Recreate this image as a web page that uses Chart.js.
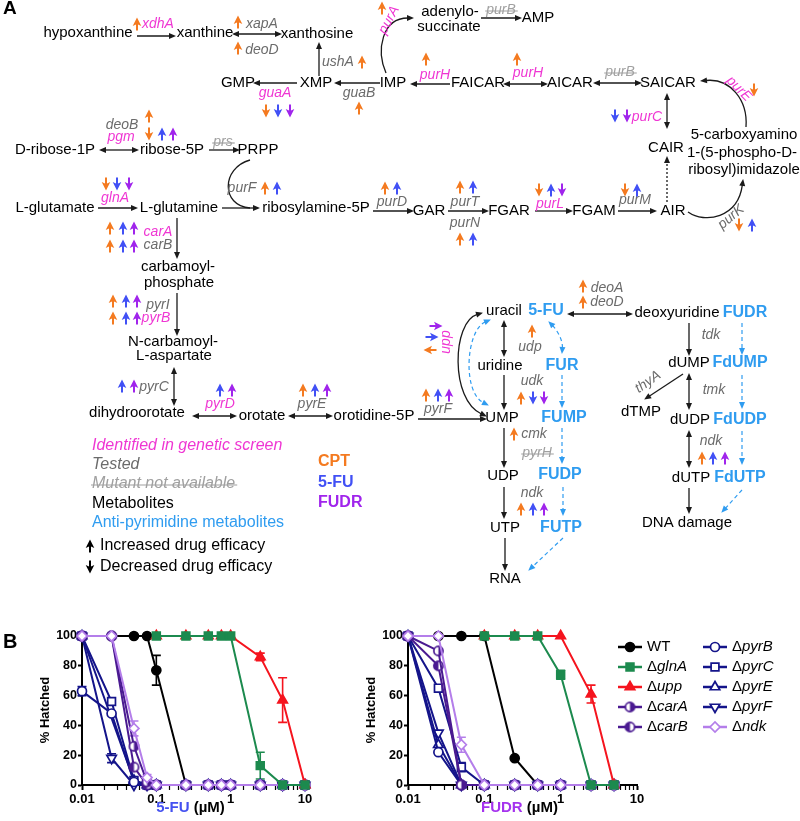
<!DOCTYPE html>
<html>
<head>
<meta charset="utf-8">
<title>Pyrimidine pathway and hatching</title>
<script src="https://cdn.jsdelivr.net/npm/chart.js@4.4.1/dist/chart.umd.min.js"></script>
<style>
  html, body { margin: 0; padding: 0; background: #fff; }
  body { width: 800px; height: 821px; position: relative; overflow: hidden; }
  canvas { position: absolute; }
</style>
</head>
<body>
<canvas id="pathway" width="800" height="595" style="left:0px;top:0px"></canvas>
<canvas id="fu" width="330" height="231" style="left:0px;top:590px"></canvas>
<canvas id="fudr" width="470" height="231" style="left:330px;top:590px"></canvas>
<script>
const FONT = '"Liberation Sans", Arial, Helvetica, sans-serif';
const ORANGE = "#f47a20", BLUE = "#4150f5", PURPLE = "#a024ec";
const MAGENTA = "#ef36d3", GREY = "#6b6b6b", LGREY = "#a0a0a0", CYAN = "#2f9cf0";

// ---------- panel A: pathway ----------
// metabolites [text, centre x, centre y]
const metabolites = [
  ["hypoxanthine", 88, 33], ["xanthine", 205, 33], ["xanthosine", 317, 34],
  ["GMP", 238, 83], ["XMP", 316, 83], ["IMP", 393, 83],
  ["adenylo-", 450, 12], ["succinate", 449, 27], ["AMP", 538, 18],
  ["FAICAR", 478, 83], ["AICAR", 570, 83], ["SAICAR", 668, 83],
  ["CAIR", 666, 148], ["5-carboxyamino", 744, 135], ["1-(5-phospho-D-", 742, 153], ["ribosyl)imidazole", 744, 170],
  ["D-ribose-1P", 55, 150], ["ribose-5P", 172, 150], ["PRPP", 258, 150],
  ["L-glutamate", 55, 208], ["L-glutamine", 179, 208], ["ribosylamine-5P", 316, 208],
  ["GAR", 429, 211], ["FGAR", 509, 211], ["FGAM", 594, 211], ["AIR", 673, 211],
  ["carbamoyl-", 178, 267], ["phosphate", 179, 283],
  ["N-carbamoyl-", 173, 342], ["L-aspartate", 174, 356],
  ["dihydroorotate", 137, 413], ["orotate", 262, 416], ["orotidine-5P", 374, 416],
  ["uracil", 504, 311], ["deoxyuridine", 677, 313], ["uridine", 500, 366],
  ["UMP", 502, 418], ["UDP", 503, 476], ["UTP", 505, 528], ["RNA", 505, 579],
  ["dUMP", 689, 363], ["dTMP", 641, 412], ["dUDP", 690, 420], ["dUTP", 691, 478], ["DNA damage", 687, 523]
];
// anti-pyrimidine metabolites [text, centre x, centre y]
const antiMetabolites = [
  ["5-FU", 546, 311], ["FUDR", 745, 313], ["FUR", 562, 366], ["FUMP", 564, 418],
  ["FUDP", 560, 475], ["FUTP", 561, 528], ["FdUMP", 740, 363], ["FdUDP", 740, 420], ["FdUTP", 740, 478]
];
// genes [text, centre x, centre y, kind, angle]
const genes = [
  ["xdhA", 158, 24, "screen"], ["xapA", 262, 24, "tested"], ["deoD", 262, 50, "tested"],
  ["ushA", 338, 62, "tested"], ["guaA", 275, 93, "screen"], ["guaB", 359, 93, "tested"],
  ["purA", 389, 20, "screen", -62], ["purB", 501, 10, "na"], ["purH", 435, 75, "screen"],
  ["purH", 528, 73, "screen"], ["purB", 620, 72, "na"], ["purE", 739, 89, "screen", 45],
  ["purC", 647, 117, "screen"], ["deoB", 122, 125, "tested"], ["pgm", 121, 137, "screen"],
  ["prs", 223, 142, "na"], ["glnA", 115, 198, "screen"], ["purF", 242, 188, "tested"],
  ["purD", 392, 202, "tested"], ["carA", 158, 232, "screen"], ["carB", 158, 245, "tested"],
  ["purT", 465, 202, "tested"], ["purN", 465, 223, "tested"], ["purL", 550, 204, "screen"],
  ["purM", 635, 200, "tested"], ["purK", 731, 217, "tested", -40],
  ["pyrI", 158, 305, "tested"], ["pyrB", 156, 318, "screen"], ["pyrC", 154, 387, "tested"],
  ["pyrD", 220, 404, "screen"], ["pyrE", 312, 404, "tested"], ["pyrF", 438, 409, "tested"],
  ["upp", 446, 342, "screen", -90], ["deoA", 607, 288, "tested"], ["deoD", 607, 302, "tested"],
  ["udp", 530, 347, "tested"], ["udk", 532, 381, "tested"], ["cmk", 534, 434, "tested"],
  ["pyrH", 537, 453, "na"], ["ndk", 532, 493, "tested"], ["tdk", 711, 335, "tested"],
  ["thyA", 648, 382, "tested", -35], ["tmk", 714, 390, "tested"], ["ndk", 711, 441, "tested"]
];
// straight reactions [x1, y1, x2, y2, heads]
const reactions = [
  [137, 36, 175, 36, 1], [233, 34, 281, 34, 2], [319, 76, 319, 43, 1], [297, 83, 254, 83, 1],
  [380, 83, 335, 83, 1], [481, 18, 521, 18, 1], [450, 84, 411, 84, 1], [504, 84, 547, 84, 2],
  [594, 83, 641, 83, 2], [667, 94, 667, 128, 2], [100, 150, 138, 150, 2], [209, 150, 239, 150, 1],
  [98, 208, 137, 208, 1], [222, 208, 259, 208, 1], [177, 218, 177, 258, 1], [177, 293, 177, 335, 1],
  [174, 368, 174, 405, 2], [193, 416, 236, 416, 2], [289, 416, 332, 416, 2], [418, 419, 486, 419, 1],
  [373, 211, 413, 211, 1], [448, 211, 488, 211, 1], [535, 211, 572, 211, 1], [618, 211, 656, 211, 1],
  [504, 321, 504, 356, 2], [504, 375, 504, 409, 1], [504, 428, 504, 467, 1], [504, 487, 504, 518, 1],
  [505, 538, 505, 570, 1], [568, 314, 632, 314, 2], [689, 323, 689, 355, 1], [683, 374, 645, 399, 1],
  [689, 374, 689, 409, 2], [689, 431, 689, 467, 2], [689, 488, 689, 513, 1]
];
// curved reactions [x1, y1, c1x, c1y, c2x, c2y, x2, y2, heads]
const curvedReactions = [
  [386, 73, 376, 50, 382, 18, 413, 18, 1],
  [746, 127, 748, 100, 730, 78, 701, 81, 1],
  [250, 160, 221, 168, 221, 206, 250, 208, 0],
  [688, 212, 705, 224, 738, 218, 743, 180, 1],
  [482, 313, 452, 322, 450, 400, 486, 416, 2]
];
const dottedReactions = [[667, 202, 667, 157, 1]];
// anti-pyrimidine conversions (dashed)
const drugReactions = [
  [549, 322, 557, 330, 563, 340, 562, 353, 2],
  [490, 320, 466, 330, 462, 392, 488, 405, 2],
  [562, 375, 562, 407, 1], [562, 428, 562, 463, 1], [563, 487, 563, 515, 1], [563, 538, 529, 570, 1],
  [742, 323, 742, 354, 1], [742, 375, 742, 408, 1], [742, 431, 742, 464, 1], [742, 490, 722, 512, 1]
];
// drug efficacy marks [x, y, up, drug, angle]  c = CPT, f = 5-FU, d = FUDR
const drugMarks = [
  [137, 24, 1, "c"], [238, 22, 1, "c"], [238, 48, 1, "c"], [362, 62, 1, "c"],
  [266, 111, 0, "c"], [278, 111, 0, "f"], [290, 111, 0, "d"], [359, 108, 1, "c"],
  [149, 116, 1, "c"], [149, 134, 0, "c"], [162, 134, 1, "f"], [173, 134, 1, "d"],
  [382, 8, 1, "c"], [426, 59, 1, "c"], [517, 59, 1, "c"], [754, 90, 0, "c"],
  [615, 116, 0, "f"], [627, 116, 0, "d"],
  [106, 184, 0, "c"], [117, 184, 0, "f"], [129, 184, 0, "d"],
  [265, 188, 1, "c"], [277, 188, 1, "f"], [385, 188, 1, "c"], [397, 188, 1, "f"],
  [110, 228, 1, "c"], [123, 228, 1, "f"], [134, 228, 1, "d"],
  [110, 246, 1, "c"], [123, 246, 1, "f"], [134, 246, 1, "d"],
  [460, 187, 1, "c"], [473, 187, 1, "f"], [460, 239, 1, "c"], [473, 239, 1, "f"],
  [539, 190, 0, "c"], [551, 190, 1, "f"], [562, 190, 0, "d"],
  [625, 190, 0, "c"], [637, 190, 1, "f"], [739, 225, 0, "c"], [752, 225, 1, "f"],
  [113, 301, 1, "c"], [126, 301, 1, "f"], [137, 301, 1, "d"],
  [113, 318, 1, "c"], [126, 318, 1, "f"], [137, 318, 1, "d"],
  [122, 386, 1, "f"], [134, 386, 1, "d"], [220, 390, 1, "f"], [232, 390, 1, "d"],
  [303, 390, 1, "c"], [315, 390, 1, "f"], [327, 390, 1, "d"],
  [426, 395, 1, "c"], [438, 395, 1, "f"], [449, 395, 1, "d"],
  [430, 350, 1, "c", -90], [432, 337, 0, "f", -90], [436, 326, 0, "d", -90],
  [583, 286, 1, "c"], [583, 302, 1, "c"], [532, 331, 1, "c"],
  [521, 398, 1, "c"], [533, 398, 0, "f"], [544, 398, 0, "d"], [514, 434, 1, "c"],
  [521, 509, 1, "c"], [533, 509, 1, "f"], [544, 509, 1, "d"],
  [702, 458, 1, "c"], [713, 458, 1, "f"], [725, 458, 1, "d"]
];
// key [text, left x, centre y, kind]
const keyItems = [
  ["Identified in genetic screen", 92, 446, "screen"], ["Tested", 92, 465, "tested"],
  ["Mutant not available", 92, 484, "na"], ["Metabolites", 92, 504, "met"],
  ["Anti-pyrimidine metabolites", 92, 523, "anti"]
];
const drugKey = [["CPT", 318, 462, "c"], ["5-FU", 318, 483, "f"], ["FUDR", 318, 503, "d"]];
const efficacyKey = [["Increased drug efficacy", 100, 546, 1], ["Decreased drug efficacy", 100, 567, 0]];

const drugColor = { c: ORANGE, f: BLUE, d: PURPLE };
const geneColor = { screen: MAGENTA, tested: GREY, na: LGREY };

function txt(ctx, s, x, y, font, color, align, ang) {
  ctx.save();
  ctx.translate(x, y);
  if (ang) ctx.rotate(ang * Math.PI / 180);
  ctx.font = font; ctx.fillStyle = color;
  ctx.textAlign = align || "center"; ctx.textBaseline = "middle";
  ctx.fillText(s, 0, 0);
  ctx.restore();
}
function strikeThrough(ctx, s, x, y, font, color, align) {
  ctx.save();
  ctx.font = font;
  const w = ctx.measureText(s).width;
  const x0 = align === "left" ? x : x - w / 2;
  ctx.strokeStyle = color; ctx.lineWidth = 1.2;
  ctx.beginPath(); ctx.moveTo(x0 - 1, y + 1); ctx.lineTo(x0 + w + 2, y + 1); ctx.stroke();
  ctx.restore();
}
function drugArrow(ctx, x, y, up, color, ang) {
  ctx.save();
  ctx.translate(x, y);
  if (ang) ctx.rotate(ang * Math.PI / 180);
  if (!up) ctx.scale(1, -1);
  ctx.fillStyle = color;
  ctx.beginPath();
  ctx.moveTo(0, -6.5); ctx.lineTo(4.3, 2); ctx.lineTo(1, 0.5); ctx.lineTo(1, 6.5);
  ctx.lineTo(-1, 6.5); ctx.lineTo(-1, 0.5); ctx.lineTo(-4.3, 2);
  ctx.closePath(); ctx.fill();
  ctx.restore();
}
function head(ctx, x, y, ang) {
  ctx.save();
  ctx.translate(x, y); ctx.rotate(ang);
  ctx.beginPath(); ctx.moveTo(1, 0); ctx.lineTo(-6, -3); ctx.lineTo(-6, 3); ctx.closePath(); ctx.fill();
  ctx.restore();
}
function arrowPath(ctx, p, heads, map) {
  const q = p.map((v, i) => map(v, i));
  const n = q.length;
  const aEnd = Math.atan2(q[n - 1] - q[n - 3], q[n - 2] - q[n - 4]);
  const aStart = Math.atan2(q[1] - q[3], q[0] - q[2]);
  const s = q.slice();
  if (heads >= 1) { s[n - 2] -= 5 * Math.cos(aEnd); s[n - 1] -= 5 * Math.sin(aEnd); }
  if (heads === 2) { s[0] -= 5 * Math.cos(aStart); s[1] -= 5 * Math.sin(aStart); }
  ctx.beginPath();
  ctx.moveTo(s[0], s[1]);
  if (n === 8) ctx.bezierCurveTo(s[2], s[3], s[4], s[5], s[6], s[7]);
  else ctx.lineTo(s[2], s[3]);
  ctx.stroke();
  ctx.save(); ctx.setLineDash([]);
  if (heads >= 1) head(ctx, q[n - 2], q[n - 1], aEnd);
  if (heads === 2) head(ctx, q[0], q[1], aStart);
  ctx.restore();
}

const pathwayPlugin = {
  id: "pathwayDiagram",
  afterDraw(chart) {
    const ctx = chart.ctx, sx = chart.scales.x, sy = chart.scales.y;
    const X = v => sx.getPixelForValue(v), Y = v => sy.getPixelForValue(v);
    const map = (v, i) => (i % 2 === 0 ? X(v) : Y(v));
    ctx.save();
    ctx.lineWidth = 1.3; ctx.strokeStyle = "#1a1a1a"; ctx.fillStyle = "#1a1a1a";
    reactions.forEach(r => arrowPath(ctx, r.slice(0, 4), r[4], map));
    curvedReactions.forEach(r => arrowPath(ctx, r.slice(0, 8), r[8], map));
    ctx.setLineDash([2, 2]);
    dottedReactions.forEach(r => arrowPath(ctx, r.slice(0, 4), r[4], map));
    ctx.setLineDash([4, 3]); ctx.strokeStyle = CYAN; ctx.fillStyle = CYAN; ctx.lineWidth = 1.2;
    drugReactions.forEach(r => arrowPath(ctx, r.slice(0, r.length - 1), r[r.length - 1], map));
    ctx.setLineDash([]);

    const met = "15px " + FONT, anti = "bold 16px " + FONT, gene = "italic 14px " + FONT;
    metabolites.forEach(m => txt(ctx, m[0], X(m[1]), Y(m[2]), met, "#000"));
    antiMetabolites.forEach(m => txt(ctx, m[0], X(m[1]), Y(m[2]), anti, CYAN));
    genes.forEach(g => {
      txt(ctx, g[0], X(g[1]), Y(g[2]), gene, geneColor[g[3]], "center", g[4]);
      if (g[3] === "na") strikeThrough(ctx, g[0], X(g[1]), Y(g[2]), gene, LGREY, "center");
    });
    drugMarks.forEach(d => drugArrow(ctx, X(d[0]), Y(d[1]), d[2], drugColor[d[3]], d[4]));

    // key
    const keyFont = { screen: "italic 16px " + FONT, tested: "italic 16px " + FONT, na: "italic 16px " + FONT,
      met: "16px " + FONT, anti: "16px " + FONT };
    const keyColor = { screen: MAGENTA, tested: GREY, na: LGREY, met: "#000", anti: CYAN };
    keyItems.forEach(k => {
      txt(ctx, k[0], X(k[1]), Y(k[2]), keyFont[k[3]], keyColor[k[3]], "left");
      if (k[3] === "na") strikeThrough(ctx, k[0], X(k[1]), Y(k[2]), keyFont.na, LGREY, "left");
    });
    drugKey.forEach(k => txt(ctx, k[0], X(k[1]), Y(k[2]), "bold 16px " + FONT, drugColor[k[3]], "left"));
    efficacyKey.forEach(k => {
      drugArrow(ctx, X(k[1] - 10), Y(k[2]), k[3], "#000");
      txt(ctx, k[0], X(k[1]), Y(k[2]), "16px " + FONT, "#000", "left");
    });
    txt(ctx, "A", 3, 9, "bold 19px " + FONT, "#000", "left");
    ctx.restore();
  }
};

new Chart(document.getElementById("pathway"), {
  type: "scatter",
  data: { datasets: [] },
  options: {
    responsive: false, animation: false,
    layout: { padding: 0 },
    plugins: { legend: { display: false }, tooltip: { enabled: false } },
    scales: {
      x: { type: "linear", min: 0, max: 800, display: false },
      y: { type: "linear", min: 0, max: 595, reverse: true, display: false }
    }
  },
  plugins: [pathwayPlugin]
});

// ---------- panel B: hatching dose response ----------
const fuDose = [0.01, 0.025, 0.05, 0.075, 0.1, 0.25, 0.5, 0.75, 1, 2.5, 5, 10];
const fuWT = [100, 100, 100, 100, 77, 0, 0, 0, 0, 0, 0, 0];
const fuWTErr = [0, 0, 0, 0, 10, 0, 0, 0, 0, 0, 0, 0];
const fuGlnA = [null, null, null, null, 100, 100, 100, 100, 100, 13, 0, 0];
const fuGlnAErr = [0, 0, 0, 0, 0, 0, 0, 0, 0, 9, 0, 0];
const fuUpp = [null, null, null, null, 100, 100, 100, 100, 100, 86, 57, 0];
const fuUppErr = [0, 0, 0, 0, 0, 0, 0, 0, 0, 2.5, 15, 0];
const fuCarA = [100, 100, 26, 2, 0, 0, 0, 0, 0, 0, 0, 0];
const fuCarB = [100, 100, 12, 0, 0, 0, 0, 0, 0, 0, 0, 0];
const fuPyrB = [63, 48, 2, 0, 0, 0, 0, 0, 0, 0, 0, 0];
const fuPyrBErr = [3, 0, 0, 0, 0, 0, 0, 0, 0, 0, 0, 0];
const fuPyrC = [100, 56, 3, 0, 0, 0, 0, 0, 0, 0, 0, 0];
const fuPyrE = [100, null, 3, 0, 0, 0, 0, 0, 0, 0, 0, 0];
const fuPyrF = [100, 18, 0, 0, 0, 0, 0, 0, 0, 0, 0, 0];
const fuPyrFErr = [0, 3, 0, 0, 0, 0, 0, 0, 0, 0, 0, 0];
const fuNdk = [100, 100, 38, 5, 0, 0, 0, 0, 0, 0, 0, 0];
const fuNdkErr = [0, 0, 5, 2, 0, 0, 0, 0, 0, 0, 0, 0];

const fudrDose = [0.01, 0.025, 0.05, 0.1, 0.25, 0.5, 1, 2.5, 5];
const fudrWT = [100, 100, 100, 100, 18, 0, 0, 0, 0];
const fudrGlnA = [null, null, null, 100, 100, 100, 74, 0, 0];
const fudrGlnAErr = [0, 0, 0, 0, 0, 0, 3, 0, 0];
const fudrUpp = [null, null, null, 100, 100, 100, 100, 61, 0];
const fudrUppErr = [0, 0, 0, 0, 0, 0, 0, 6, 0];
const fudrCarA = [100, 90, 0, 0, 0, 0, 0, 0, 0];
const fudrCarB = [100, 80, 0, 0, 0, 0, 0, 0, 0];
const fudrPyrB = [100, 22, 0, 0, 0, 0, 0, 0, 0];
const fudrPyrC = [100, 65, 12, 0, 0, 0, 0, 0, 0];
const fudrPyrCErr = [0, 0, 3, 0, 0, 0, 0, 0, 0];
const fudrPyrE = [100, 27, 0, 0, 0, 0, 0, 0, 0];
const fudrPyrF = [100, 35, 0, 0, 0, 0, 0, 0, 0];
const fudrNdk = [100, 100, 27, 0, 0, 0, 0, 0, 0];
const fudrNdkErr = [0, 0, 5, 0, 0, 0, 0, 0, 0];

const xTickLabels = ["0.01", "0.1", "1", "10"];
const yTicks = [0, 20, 40, 60, 80, 100];
const legendOrder = ["WT", "glnA", "upp", "carA", "carB", "pyrB", "pyrC", "pyrE", "pyrF", "ndk"];
const drawOrder = ["glnA", "upp", "ndk", "carA", "carB", "pyrB", "pyrC", "pyrE", "pyrF", "WT"];

function halfCircle(color, side) {
  const c = document.createElement("canvas");
  c.width = 13; c.height = 13;
  const g = c.getContext("2d");
  g.fillStyle = "#fff"; g.beginPath(); g.arc(6.5, 6.5, 4.6, 0, Math.PI * 2); g.fill();
  g.fillStyle = color; g.beginPath();
  if (side === "right") g.arc(6.5, 6.5, 4.6, -Math.PI / 2, Math.PI / 2);
  else g.arc(6.5, 6.5, 4.6, Math.PI / 2, Math.PI * 1.5);
  g.closePath(); g.fill();
  g.strokeStyle = color; g.lineWidth = 1.7; g.beginPath(); g.arc(6.5, 6.5, 4.6, 0, Math.PI * 2); g.stroke();
  return c;
}
const NAVY = "#14148a", DPURPLE = "#4a1a91";
const strainStyle = {
  WT: { color: "#000", fill: "#000", shape: "circle", r: 4.5 },
  glnA: { color: "#1c8a4e", fill: "#1c8a4e", shape: "rect", r: 5.5 },
  upp: { color: "#f5141e", fill: "#f5141e", shape: "triangle", r: 5.5 },
  carA: { color: DPURPLE, fill: DPURPLE, shape: halfCircle(DPURPLE, "right"), r: 5 },
  carB: { color: DPURPLE, fill: DPURPLE, shape: halfCircle(DPURPLE, "left"), r: 5 },
  pyrB: { color: NAVY, fill: "#fff", shape: "circle", r: 4.5 },
  pyrC: { color: NAVY, fill: "#fff", shape: "rect", r: 5.5 },
  pyrE: { color: NAVY, fill: "#fff", shape: "triangle", r: 5.5 },
  pyrF: { color: NAVY, fill: "#fff", shape: "triangle", r: 5.5, rot: 180 },
  ndk: { color: "#b47eea", fill: "#fff", shape: "rectRot", r: 5 }
};

function series(key, dose, vals, errs) {
  const st = strainStyle[key];
  return {
    key, label: key,
    data: dose.map((d, i) => ({ x: d, y: vals[i] })),
    err: errs || null,
    borderColor: st.color, backgroundColor: st.fill,
    pointBackgroundColor: st.fill, pointBorderColor: st.color,
    pointStyle: st.shape, pointRadius: st.r, pointRotation: st.rot || 0,
    pointBorderWidth: 1.7, borderWidth: 2, tension: 0, spanGaps: true, clip: false
  };
}

const fuSets = {
  WT: series("WT", fuDose, fuWT, fuWTErr), glnA: series("glnA", fuDose, fuGlnA, fuGlnAErr),
  upp: series("upp", fuDose, fuUpp, fuUppErr), carA: series("carA", fuDose, fuCarA),
  carB: series("carB", fuDose, fuCarB), pyrB: series("pyrB", fuDose, fuPyrB, fuPyrBErr),
  pyrC: series("pyrC", fuDose, fuPyrC), pyrE: series("pyrE", fuDose, fuPyrE),
  pyrF: series("pyrF", fuDose, fuPyrF, fuPyrFErr), ndk: series("ndk", fuDose, fuNdk, fuNdkErr)
};
const fudrSets = {
  WT: series("WT", fudrDose, fudrWT), glnA: series("glnA", fudrDose, fudrGlnA, fudrGlnAErr),
  upp: series("upp", fudrDose, fudrUpp, fudrUppErr), carA: series("carA", fudrDose, fudrCarA),
  carB: series("carB", fudrDose, fudrCarB), pyrB: series("pyrB", fudrDose, fudrPyrB),
  pyrC: series("pyrC", fudrDose, fudrPyrC, fudrPyrCErr), pyrE: series("pyrE", fudrDose, fudrPyrE),
  pyrF: series("pyrF", fudrDose, fudrPyrF), ndk: series("ndk", fudrDose, fudrNdk, fudrNdkErr)
};

const isDecade = v => Math.abs(Math.log10(v) - Math.round(Math.log10(v))) < 1e-6;

const errorBars = {
  id: "errorBars",
  beforeDatasetsDraw(chart) {
    const ctx = chart.ctx, xs = chart.scales.x, ys = chart.scales.y;
    ctx.save();
    chart.data.datasets.forEach(ds => {
      if (!ds.err) return;
      ctx.strokeStyle = ds.borderColor; ctx.lineWidth = 1.6;
      ds.data.forEach((p, i) => {
        const e = ds.err[i];
        if (!e || p.y == null) return;
        const x = xs.getPixelForValue(p.x);
        const yT = ys.getPixelForValue(p.y + e), yB = ys.getPixelForValue(Math.max(0, p.y - e));
        ctx.beginPath();
        ctx.moveTo(x, yT); ctx.lineTo(x, yB);
        ctx.moveTo(x - 4.5, yT); ctx.lineTo(x + 4.5, yT);
        ctx.moveTo(x - 4.5, yB); ctx.lineTo(x + 4.5, yB);
        ctx.stroke();
      });
    });
    ctx.restore();
  }
};

const axisTitles = {
  id: "axisTitles",
  afterDraw(chart, args, opts) {
    const ctx = chart.ctx, a = chart.chartArea;
    ctx.save();
    ctx.textBaseline = "middle";
    ctx.font = "bold 15px " + FONT;
    const w1 = ctx.measureText(opts.drug).width, w2 = ctx.measureText(" (\u00b5M)").width;
    const cx = (a.left + a.right) / 2 - 3, x0 = cx - (w1 + w2) / 2;
    ctx.textAlign = "left";
    ctx.fillStyle = opts.color; ctx.fillText(opts.drug, x0, 218);
    ctx.fillStyle = "#000"; ctx.fillText(" (\u00b5M)", x0 + w1, 218);
    ctx.translate(a.left - 37, 120); ctx.rotate(-Math.PI / 2);
    ctx.textAlign = "center"; ctx.font = "bold 13px " + FONT;
    ctx.fillText("% Hatched", 0, 0);
    ctx.restore();
    if (opts.letter) {
      ctx.save(); ctx.font = "bold 20px " + FONT; ctx.fillStyle = "#000";
      ctx.textBaseline = "alphabetic"; ctx.fillText(opts.letter, 3, 58); ctx.restore();
    }
  }
};

const strainLegend = {
  id: "strainLegend",
  afterDraw(chart) {
    const ctx = chart.ctx;
    const byKey = {};
    chart.data.datasets.forEach(ds => { byKey[ds.key] = ds; });
    ctx.save();
    legendOrder.forEach((k, i) => {
      const ds = byKey[k];
      const col = i < 5 ? 0 : 1, row = i % 5;
      const x0 = col === 0 ? 288 : 373, y = 57 + row * 20;
      ctx.strokeStyle = ds.borderColor; ctx.lineWidth = 2.5;
      ctx.beginPath(); ctx.moveTo(x0, y); ctx.lineTo(x0 + 24, y); ctx.stroke();
      ctx.fillStyle = ds.pointBackgroundColor; ctx.strokeStyle = ds.pointBorderColor; ctx.lineWidth = 1.7;
      Chart.helpers.drawPoint(ctx, { pointStyle: ds.pointStyle, radius: ds.pointRadius,
        rotation: ds.pointRotation, borderWidth: 1.7 }, x0 + 12, y);
      ctx.fillStyle = "#000"; ctx.textBaseline = "middle"; ctx.textAlign = "left";
      let tx = x0 + 29;
      if (k === "WT") {
        ctx.font = "15px " + FONT; ctx.fillText("WT", tx, y);
      } else {
        ctx.font = "15px " + FONT; ctx.fillText("\u0394", tx, y);
        tx += ctx.measureText("\u0394").width;
        ctx.font = "italic 15px " + FONT; ctx.fillText(k, tx, y);
      }
    });
    ctx.restore();
  }
};

function doseChart(id, sets, yWidth, padRight, drug, color, letter, extra) {
  return new Chart(document.getElementById(id), {
    type: "line",
    data: { datasets: drawOrder.map(k => sets[k]) },
    options: {
      responsive: false, animation: false,
      layout: { padding: { left: 0, right: padRight, top: 46, bottom: 0 } },
      plugins: {
        legend: { display: false }, tooltip: { enabled: false },
        axisTitles: { drug, color, letter }
      },
      scales: {
        x: {
          type: "logarithmic", min: 0.01, max: 10,
          afterFit: s => { s.height = 36; },
          border: { display: true, color: "#000", width: 2 },
          grid: { drawOnChartArea: false, drawTicks: true, tickLength: 5, tickColor: "#000",
            tickWidth: c => (c.tick && isDecade(c.tick.value) ? 2 : 1.2) },
          ticks: {
            autoSkip: false, maxRotation: 0, padding: 2, color: "#000",
            font: { family: FONT, size: 13, weight: "bold" },
            callback: v => (isDecade(v) ? xTickLabels[Math.round(Math.log10(v)) + 2] : "")
          }
        },
        y: {
          min: 0, max: 100,
          afterFit: s => { s.width = yWidth; },
          afterBuildTicks: s => { s.ticks = yTicks.map(v => ({ value: v })); },
          border: { display: true, color: "#000", width: 2 },
          grid: { drawOnChartArea: false, drawTicks: true, tickLength: 4, tickColor: "#000", tickWidth: 2 },
          ticks: { padding: 1, color: "#000", font: { family: FONT, size: 12.5, weight: "bold" } }
        }
      }
    },
    plugins: [errorBars, axisTitles].concat(extra || [])
  });
}

doseChart("fu", fuSets, 82, 25, "5-FU", "#4451f0", "B");
doseChart("fudr", fudrSets, 78, 163, "FUDR", "#a533ee", null, [strainLegend]);
</script>
</body>
</html>
